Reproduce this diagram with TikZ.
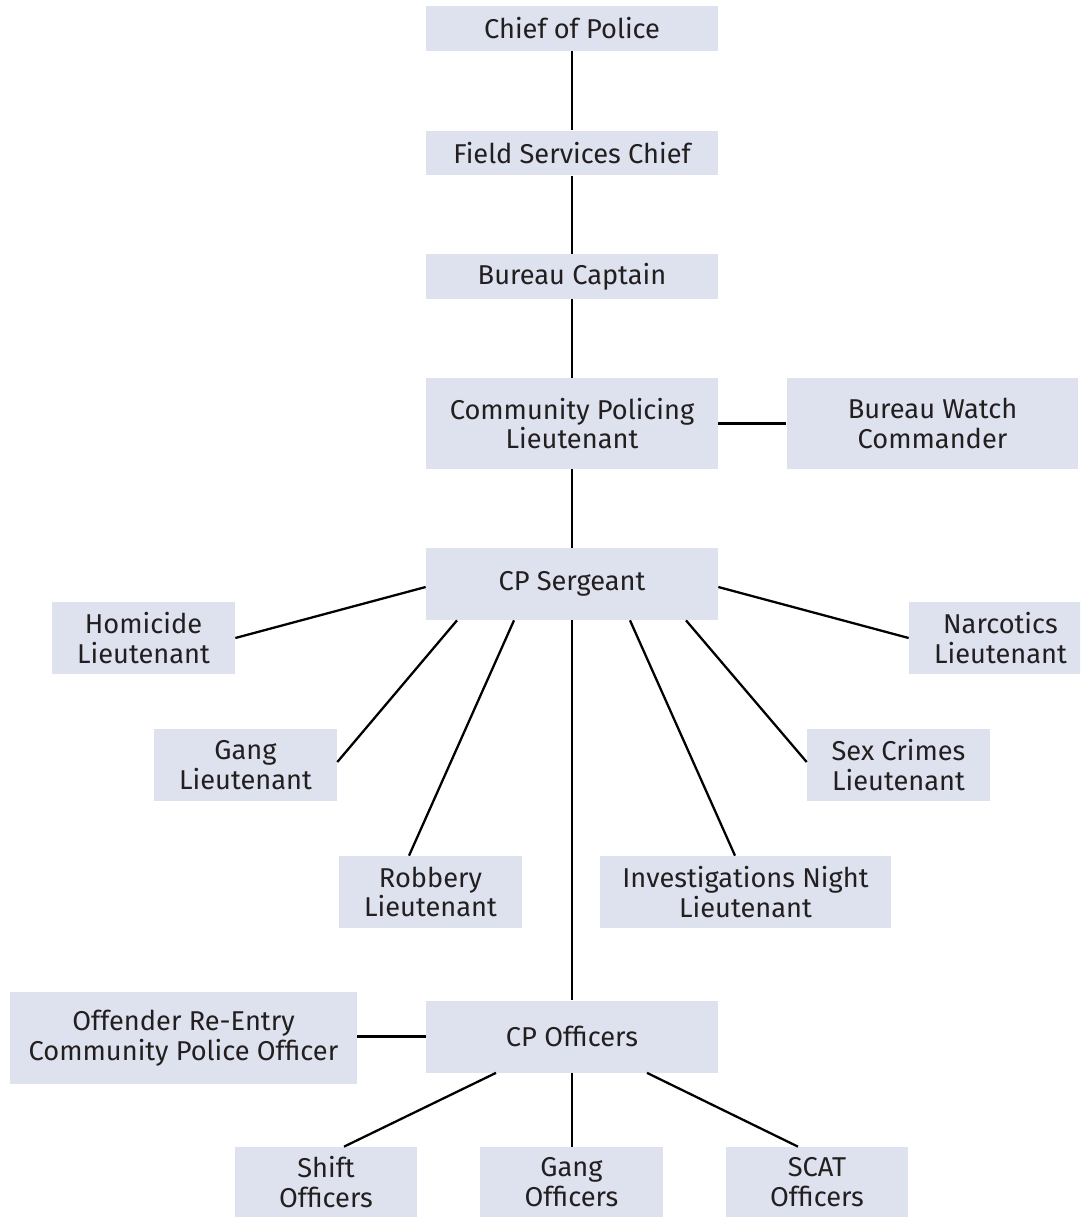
\documentclass[tikz,border=0pt]{standalone}
\usepackage{fontspec}
\setmainfont{Fira Sans}
\definecolor{boxfill}{RGB}{221,226,238}
\definecolor{boxtext}{RGB}{35,31,32}
\tikzset{
	rank/.style={fill=boxfill, text=boxtext, inner sep=0pt, align=center,
		font=\fontsize{15.5}{17}\selectfont},
	wide/.style={rank, minimum width=5.84cm, minimum height=1.44cm},
	small/.style={rank, minimum width=3.66cm, minimum height=1.44cm},
	link/.style={draw=black, line width=1.3pt}
}
\begin{document}
\begin{tikzpicture}[x=0.02cm,y=-0.02cm]
	
	\clip (0,0) rectangle (1080,1217); % Clips the picture to the page
	
	% the main chain down the middle
	\node[wide, minimum height=0.9cm] (chief) at (572,28.5) {Chief of Police};
	\node[wide, minimum height=0.9cm] (field) at (572,153) {Field Services Chief};
	\node[wide, minimum height=0.9cm] (capt) at (572,276.5) {Bureau Captain};
	\node[wide, minimum height=1.82cm] (cpl) at (572,423.5) {Community Policing\\Lieutenant};
	\node[wide, minimum height=1.82cm] (watch) at (932.5,423.5) {Bureau Watch\\Commander};
	\node[wide] (sgt) at (572,584) {CP Sergeant};
	\node[wide] (off) at (572,1036.5) {CP Officers};
	
	% lieutenants round the sergeant
	\node[small] (hom) at (143.5,638) {Homicide\\Lieutenant};
	\node[small] (narc) at (1000.5,638) {Narcotics\\Lieutenant};
	\node[small] (gang) at (245.5,765) {Gang\\Lieutenant};
	\node[small] (sex) at (898.5,765) {Sex Crimes\\Lieutenant};
	\node[small] (rob) at (430.5,892) {Robbery\\Lieutenant};
	\node[wide, minimum width=5.82cm] (inv) at (745.5,892) {Investigations Night\\Lieutenant};
	
	% officers
	\node[rank, minimum width=6.94cm, minimum height=1.84cm] (reentry) at (183.5,1038) {Offender Re-Entry\\Community Police Officer};
	\node[small, minimum height=1.4cm] (shift) at (326,1182) {Shift\\Officers};
	\node[small, minimum height=1.4cm] (gangoff) at (571.5,1182) {Gang\\Officers};
	\node[small, minimum height=1.4cm] (scat) at (817,1182) {SCAT\\Officers};
	
	\draw[link] (chief) -- (field);
	\draw[link] (field) -- (capt);
	\draw[link] (capt) -- (cpl);
	\draw[link] (cpl) -- (watch);
	\draw[link] (cpl) -- (sgt);
	
	\draw[link] ([yshift=-0.06cm]sgt.west) -- (hom.east);
	\draw[link] ([yshift=-0.06cm]sgt.east) -- (narc.west);
	\draw[link] ([xshift=-2.3cm]sgt.south) -- ([yshift=0.06cm]gang.east);
	\draw[link] ([xshift=2.28cm]sgt.south) -- ([yshift=0.06cm]sex.west);
	\draw[link] ([xshift=-1.16cm]sgt.south) -- ([xshift=-0.43cm]rob.north);
	\draw[link] ([xshift=1.16cm]sgt.south) -- ([xshift=-0.21cm]inv.north);
	\draw[link] (sgt) -- (off);
	
	\draw[link] (reentry.east |- off) -- (off);
	\draw[link] ([xshift=-1.52cm]off.south) -- ([xshift=0.36cm]shift.north);
	\draw[link] (off.south) -- (off.south |- gangoff.north);
	\draw[link] ([xshift=1.5cm]off.south) -- ([xshift=-0.38cm]scat.north);
	
\end{tikzpicture}
\end{document}
